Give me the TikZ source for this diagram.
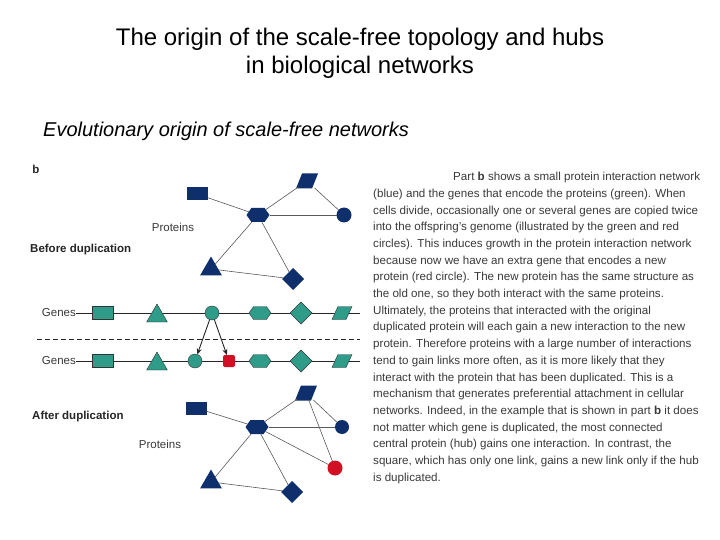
\documentclass[tikz,border=0pt]{standalone}
\usepackage{fontspec}
\setmainfont{Liberation Sans}
\usetikzlibrary{shapes.geometric,shapes.symbols,arrows.meta}
\definecolor{navy}{HTML}{0E2F6B}
\definecolor{teal2}{HTML}{2E9C89}
\definecolor{dupred}{HTML}{D20F25}
\definecolor{txt}{HTML}{3A3A3A}
\begin{document}
\begin{tikzpicture}[x=1pt,y=-1pt,
  prot/.style={fill=navy,draw=none,inner sep=0pt,outer sep=0pt},
  gene/.style={fill=teal2,draw=black!80,line width=0.4pt,inner sep=0pt,outer sep=0pt},
  newp/.style={fill=dupred,draw=none,inner sep=0pt,outer sep=0pt},
  sqr/.style={rectangle,minimum width=21pt,minimum height=13pt},
  hexa/.style={signal,signal to=east and west,signal pointer angle=110,minimum width=23pt,minimum height=14pt},
  parabox/.style={rectangle,inner sep=0pt,outer sep=0pt,minimum width=17pt,minimum height=14pt},
  tri/.style={regular polygon,regular polygon sides=3,minimum size=25pt},
  dia/.style={diamond,minimum width=22pt,minimum height=22pt},
  circ/.style={circle,minimum size=15pt},
  link/.style={draw=black!65,line width=0.6pt},
  geneline/.style={draw=black!85,line width=0.6pt},
  lab/.style={font=\fontsize{11.5}{13}\selectfont,text=txt,inner sep=0pt},
  blab/.style={font=\fontsize{11.5}{13}\selectfont\bfseries,text=black!85,inner sep=0pt},
  arr/.style={draw=black!85,line width=0.9pt,-{Stealth[length=6pt,width=5pt]}}
]
\useasboundingbox (0,0) rectangle (720,540);
\fill[white] (0,0) rectangle (720,540);

% titles
\node[align=center,font=\fontsize{24}{28}\selectfont] (title) at (360,53)
  {The origin of the scale-free topology and hubs\\in biological networks};
\node[anchor=west,font=\fontsize{20}{24}\selectfont\itshape,inner sep=0pt] (sub) at (43,131)
  {Evolutionary origin of scale-free networks};

% left labels
\node[blab] (b) at (36,169) {b};
\node[lab] (protA) at (173,227) {Proteins};
\node[blab,anchor=west] (before) at (30,250) {Before duplication};
\node[blab,anchor=west] (after) at (32,417) {After duplication};
\node[lab] (protB) at (160,444) {Proteins};

% before network
\node[prot,sqr] (bsq) at (197,194) {};
\node[parabox] (bpa) at (307,181) {};
\fill[navy] (bpa) ++(-11,7.5) -- ++(16,0) -- ++(6,-15) -- ++(-16,0) -- cycle;
\node[prot,hexa] (bhub) at (258,215) {};
\node[prot,circ] (bci) at (344,215) {};
\node[prot,tri] (btr) at (211,269) {};
\node[prot,dia] (bdi) at (293,279) {};
\draw[link] (bsq) -- (bhub);
\draw[link] (bhub) -- (bpa);
\draw[link] (bhub) -- (bci);
\draw[link] (bpa) -- (bci);
\draw[link] (bhub) -- (btr);
\draw[link] (bhub) -- (bdi);
\draw[link] (btr) -- (bdi);

% genes rows
\node[lab,anchor=east] (g1) at (76,313) {Genes};
\node[lab,anchor=east] (g2) at (76,361) {Genes};
\coordinate (g1e) at (360,313);
\coordinate (g2e) at (360,361);
\draw[geneline] (g1) -- (g1e);
\draw[geneline] (g2) -- (g2e);
\coordinate (dl) at (37,339);
\coordinate (dr) at (360,339);
\draw[black!85,line width=0.6pt,dash pattern=on 5pt off 3pt] (dl) -- (dr);

\node[gene,sqr] (g1sq) at (103,313) {};
\node[gene,tri,minimum size=24pt] (g1tr) at (157,316) {};
\node[gene,circ,minimum size=14pt] (g1ci) at (212,313) {};
\node[gene,hexa,minimum width=22pt,minimum height=13pt] (g1hx) at (260,313) {};
\node[gene,dia] (g1di) at (301,313) {};
\node[parabox,minimum height=13pt] (g1pa) at (342,313) {};
\filldraw[fill=teal2,draw=black!80,line width=0.4pt] (g1pa) ++(-10,6.5) -- ++(14,0) -- ++(6,-13) -- ++(-14,0) -- cycle;

\node[gene,sqr] (g2sq) at (103,361) {};
\node[gene,tri,minimum size=24pt] (g2tr) at (157,364) {};
\node[gene,circ,minimum size=14pt] (g2ci) at (195,361) {};
\node[newp,rectangle,rounded corners=2pt,minimum size=12pt] (g2rd) at (229,361) {};
\node[gene,hexa,minimum width=22pt,minimum height=13pt] (g2hx) at (260,361) {};
\node[gene,dia] (g2di) at (301,361) {};
\node[parabox,minimum height=13pt] (g2pa) at (342,361) {};
\filldraw[fill=teal2,draw=black!80,line width=0.4pt] (g2pa) ++(-10,6.5) -- ++(14,0) -- ++(6,-13) -- ++(-14,0) -- cycle;

\draw[arr] (g1ci) -- (g2ci);
\draw[arr] (g1ci) -- (g2rd);

% after network
\node[prot,sqr] (asq) at (196,408) {};
\node[parabox] (apa) at (306,393) {};
\fill[navy] (apa) ++(-11,7.5) -- ++(16,0) -- ++(6,-15) -- ++(-16,0) -- cycle;
\node[prot,hexa] (ahub) at (257,427) {};
\node[prot,circ,minimum size=14pt] (aci) at (342,427) {};
\node[newp,circ] (ard) at (335,468) {};
\node[prot,tri] (atr) at (211,482) {};
\node[prot,dia] (adi) at (292,492) {};
\draw[link] (asq) -- (ahub);
\draw[link] (ahub) -- (apa);
\draw[link] (ahub) -- (aci);
\draw[link] (apa) -- (aci);
\draw[link] (apa) -- (ard);
\draw[link] (ahub) -- (ard);
\draw[link] (ahub) -- (atr);
\draw[link] (ahub) -- (adi);
\draw[link] (atr) -- (adi);

% caption text
\node[anchor=north west,align=left,inner sep=0pt,text=txt,
      font=\fontsize{11.6}{16.7}\selectfont] (cap) at (373,172)
{\hspace*{80pt}Part \textbf{b} shows a small protein interaction network\\
(blue) and the genes that encode the proteins (green). When\\
cells divide, occasionally one or several genes are copied twice\\
into the offspring's genome (illustrated by the green and red\\
circles). This induces growth in the protein interaction network\\
because now we have an extra gene that encodes a new\\
protein (red circle). The new protein has the same structure as\\
the old one, so they both interact with the same proteins.\\
Ultimately, the proteins that interacted with the original\\
duplicated protein will each gain a new interaction to the new\\
protein. Therefore proteins with a large number of interactions\\
tend to gain links more often, as it is more likely that they\\
interact with the protein that has been duplicated. This is a\\
mechanism that generates preferential attachment in cellular\\
networks. Indeed, in the example that is shown in part \textbf{b} it does\\
not matter which gene is duplicated, the most connected\\
central protein (hub) gains one interaction. In contrast, the\\
square, which has only one link, gains a new link only if the hub\\
is duplicated.};
\end{tikzpicture}
\end{document}
